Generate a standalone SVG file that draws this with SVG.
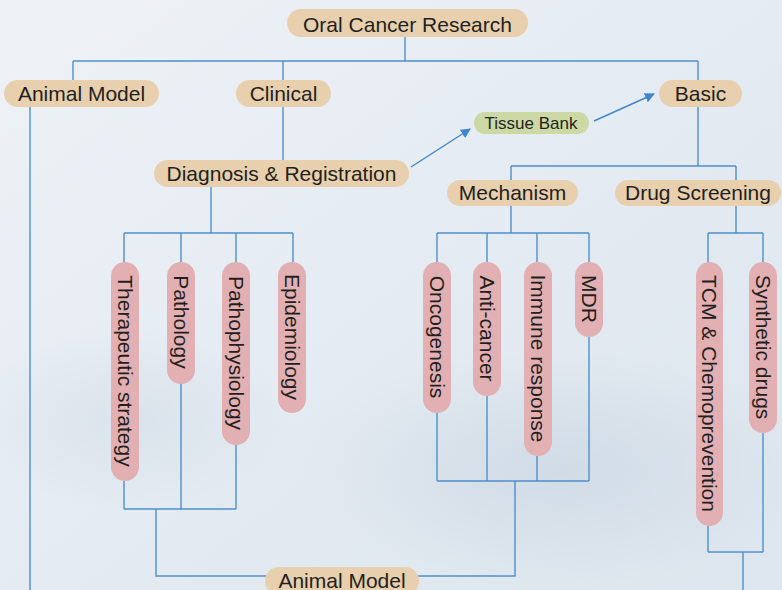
<svg xmlns="http://www.w3.org/2000/svg" width="782" height="590" viewBox="0 0 782 590">
<defs>
<linearGradient id="bg" x1="0" y1="0" x2="1" y2="1">
<stop offset="0" stop-color="#eef2f6"/>
<stop offset="0.5" stop-color="#e4ebf2"/>
<stop offset="1" stop-color="#dde6ee"/>
</linearGradient>
<radialGradient id="blob" cx="0.5" cy="0.5" r="0.5">
<stop offset="0" stop-color="#cdd8e3" stop-opacity="0.8"/>
<stop offset="1" stop-color="#cdd8e3" stop-opacity="0"/>
</radialGradient>
<marker id="arr" viewBox="0 0 10 10" refX="9" refY="5" markerWidth="10" markerHeight="10" markerUnits="userSpaceOnUse" orient="auto">
<path d="M0,0 L10,5 L0,10 z" fill="#3f87cc"/>
</marker>
<style>
.ln{fill:none;stroke:#4f8fcc;stroke-width:1.4}
.ar{fill:none;stroke:#3f87cc;stroke-width:1.4}
.tan{fill:#e8d0ae}
.pink{fill:#e2afb2}
.green{fill:#ccd9a4}
text{font-family:"Liberation Sans",Arial,sans-serif;fill:#231f20;font-size:21px;text-anchor:middle}
.sm{font-size:17px}
</style>
</defs>
<rect width="782" height="590" fill="url(#bg)"/>
<ellipse cx="560" cy="470" rx="260" ry="120" fill="url(#blob)"/>
<ellipse cx="130" cy="420" rx="160" ry="90" fill="url(#blob)" opacity="0.6"/>

<g id="connectors">
<path class="ln" d="M405,37 V61 M73,61 H698 M73,61 V80 M283,61 V80 M698,61 V80"/>
<path class="ln" d="M30,107 V590"/>
<path class="ln" d="M283,107 V160"/>
<path class="ln" d="M211,187 V233 M124,233 H293 M124,233 V262 M181,233 V262 M236,233 V262 M293,233 V262"/>
<path class="ln" d="M124,481 V509 M181,384 V509 M236,445 V509 M124,509 H236 M156,509 V576 H515 V481"/>
<path class="ln" d="M698,107 V166 M511,166 H736 M511,166 V180 M736,166 V180"/>
<path class="ln" d="M511,206 V233 M437,233 H589 M437,233 V262 M487,233 V262 M537,233 V262 M589,233 V262"/>
<path class="ln" d="M437,413 V481 M487,396 V481 M537,456 V481 M589,337 V481 M437,481 H589"/>
<path class="ln" d="M736,206 V233 M708,233 H763 M708,233 V262 M763,233 V262"/>
<path class="ln" d="M708,526 V552 M763,433 V552 M708,552 H763 M743,552 V590"/>
<line class="ar" x1="411" y1="167" x2="470" y2="129" marker-end="url(#arr)"/>
<line class="ar" x1="594" y1="121" x2="654" y2="94" marker-end="url(#arr)"/>
</g>

<g id="oral-cancer-research"><rect class="tan" x="287" y="9" width="241" height="28" rx="14"/><text x="407.5" y="31.5">Oral Cancer Research</text></g>
<g id="animal-model"><rect class="tan" x="4" y="80" width="155" height="27" rx="13.5"/><text x="81.5" y="100.5">Animal Model</text></g>
<g id="clinical"><rect class="tan" x="236" y="80" width="95" height="27" rx="13.5"/><text x="283.5" y="100.5">Clinical</text></g>
<g id="basic"><rect class="tan" x="659" y="80" width="83" height="27" rx="13.5"/><text x="700.5" y="100.5">Basic</text></g>
<g id="tissue-bank"><rect class="green" x="474" y="112" width="115" height="22" rx="11"/><text class="sm" x="531" y="129">Tissue Bank</text></g>
<g id="diagnosis-registration"><rect class="tan" x="154" y="160" width="255" height="27" rx="13.5"/><text x="281.5" y="180.5">Diagnosis &amp; Registration</text></g>
<g id="mechanism"><rect class="tan" x="447" y="180" width="131" height="26" rx="13"/><text x="512.5" y="200">Mechanism</text></g>
<g id="drug-screening"><rect class="tan" x="615" y="180" width="166" height="26" rx="13"/><text x="698" y="200">Drug Screening</text></g>

<g id="therapeutic-strategy"><rect class="pink" x="111" y="262" width="28" height="219" rx="14"/><text transform="translate(125,371) rotate(90)" y="7.5">Therapeutic strategy</text></g>
<g id="pathology"><rect class="pink" x="167" y="262" width="28" height="122" rx="14"/><text transform="translate(181,322) rotate(90)" y="7.5">Pathology</text></g>
<g id="pathophysiology"><rect class="pink" x="222" y="262" width="28" height="183" rx="14"/><text transform="translate(236,353) rotate(90)" y="7.5">Pathophysiology</text></g>
<g id="epidemiology"><rect class="pink" x="278" y="262" width="28" height="151" rx="14"/><text transform="translate(292,337) rotate(90)" y="7.5">Epidemiology</text></g>

<g id="oncogenesis"><rect class="pink" x="423" y="262" width="28" height="151" rx="14"/><text transform="translate(437,337) rotate(90)" y="7.5">Oncogenesis</text></g>
<g id="anti-cancer"><rect class="pink" x="473" y="262" width="28" height="134" rx="14"/><text transform="translate(487,328.5) rotate(90)" y="7.5">Anti-cancer</text></g>
<g id="immune-response"><rect class="pink" x="524" y="262" width="28" height="194" rx="14"/><text transform="translate(538,358.5) rotate(90)" y="7.5">Immune response</text></g>
<g id="mdr"><rect class="pink" x="575" y="262" width="28" height="75" rx="14"/><text transform="translate(589,299) rotate(90)" y="7.5">MDR</text></g>

<g id="tcm-chemoprevention"><rect class="pink" x="696" y="262" width="27" height="264" rx="13.5"/><text transform="translate(709.5,393.5) rotate(90)" y="7.5">TCM &amp; Chemoprevention</text></g>
<g id="synthetic-drugs"><rect class="pink" x="749" y="262" width="28" height="171" rx="14"/><text transform="translate(763,347) rotate(90)" y="7.5">Synthetic drugs</text></g>

<g id="animal-model-bottom"><rect class="tan" x="265" y="567" width="154" height="28" rx="14"/><text x="342" y="588">Animal Model</text></g>
</svg>
